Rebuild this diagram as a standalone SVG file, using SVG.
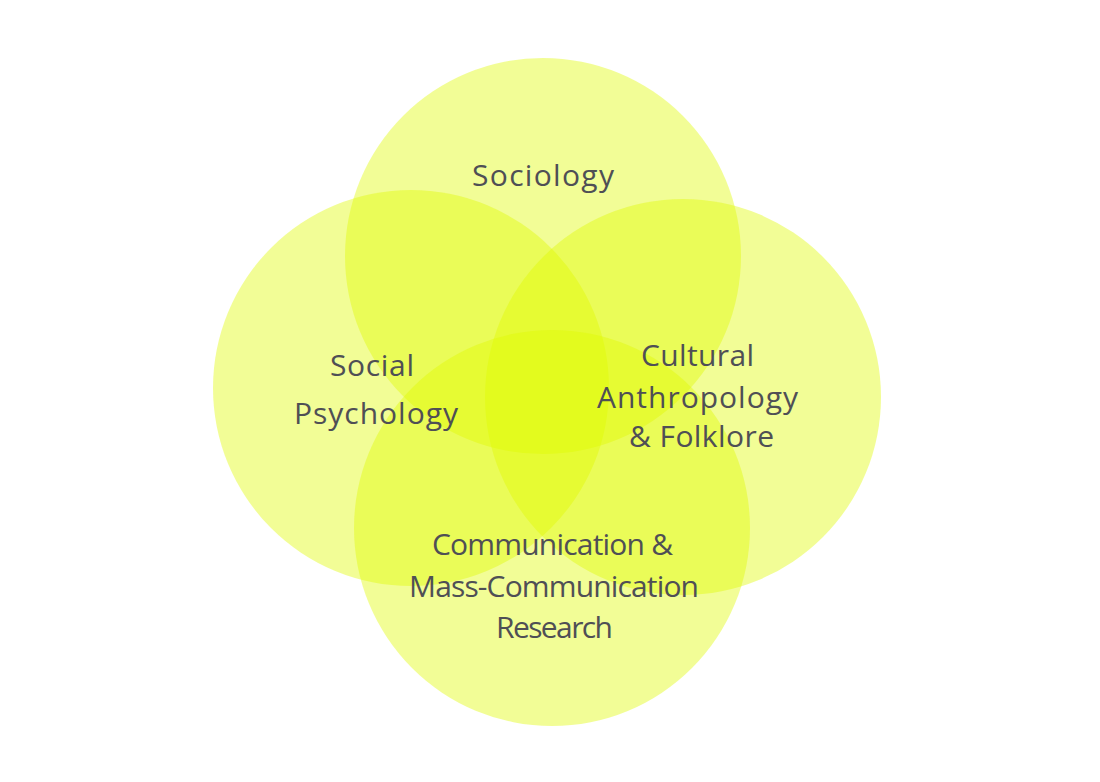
<svg xmlns="http://www.w3.org/2000/svg" width="1100" height="782" viewBox="0 0 1100 782">
<style>
.c{fill:#e0fb00;fill-opacity:0.41}
.t{font-family:"Open Sans","Liberation Sans",sans-serif;font-size:30px;fill:#4f4f55;text-anchor:middle}
</style>
<rect width="1100" height="782" fill="#ffffff"/>
<g id="sociology"><circle class="c" cx="543" cy="256" r="198"/></g>
<g id="social-psychology"><circle class="c" cx="411" cy="388" r="198"/></g>
<g id="cultural-anthropology"><circle class="c" cx="683" cy="397" r="198"/></g>
<g id="communication"><circle class="c" cx="552" cy="528" r="198"/></g>
<g id="labels">
<text class="t" x="543" y="186" textLength="142" lengthAdjust="spacing">Sociology</text>
<text class="t" x="372" y="376" textLength="84" lengthAdjust="spacing">Social</text>
<text class="t" x="376" y="424" textLength="164" lengthAdjust="spacing">Psychology</text>
<text class="t" x="697.5" y="366" textLength="113" lengthAdjust="spacing">Cultural</text>
<text class="t" x="697.5" y="408" textLength="201" lengthAdjust="spacing">Anthropology</text>
<text class="t" x="701.5" y="447" textLength="145" lengthAdjust="spacing">&amp; Folklore</text>
<text class="t" x="552.5" y="555" textLength="241" lengthAdjust="spacing">Communication &amp;</text>
<text class="t" x="554" y="597" textLength="290" lengthAdjust="spacing">Mass-Communication</text>
<text class="t" x="554.5" y="638" textLength="117" lengthAdjust="spacing">Research</text>
</g>
<g id="connectors"/>
</svg>
